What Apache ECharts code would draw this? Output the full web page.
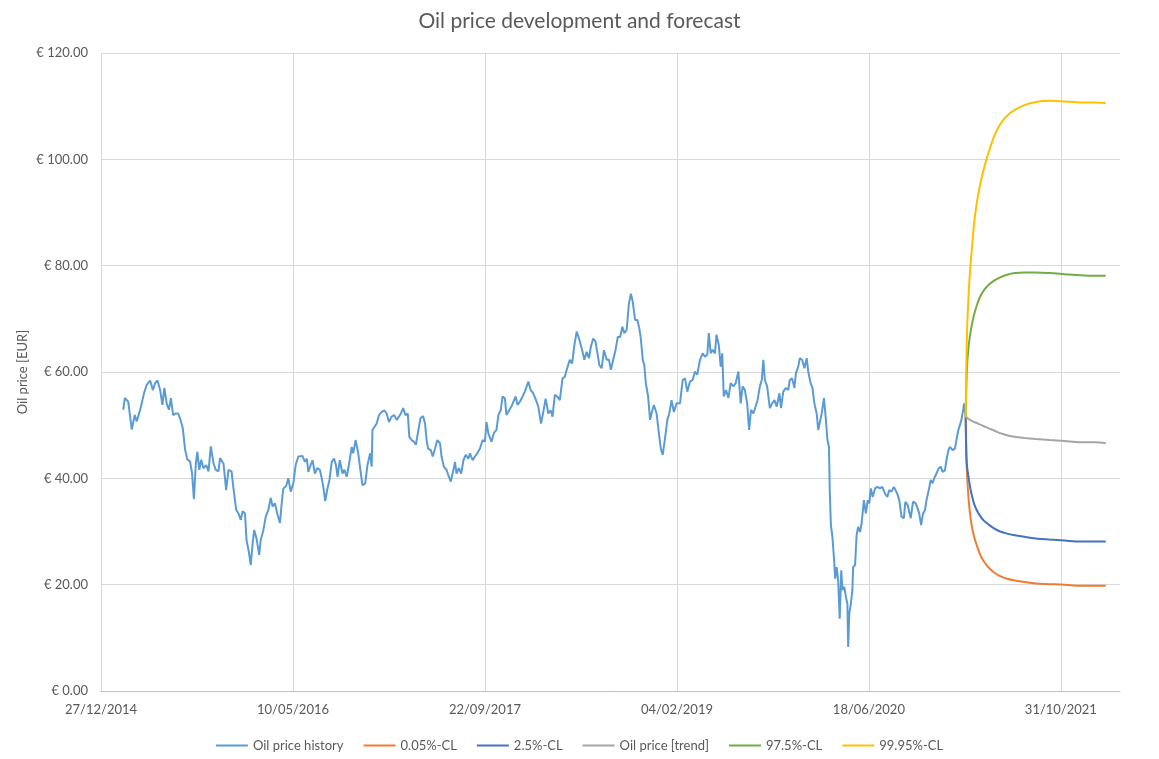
<!DOCTYPE html>
<html>
<head>
<meta charset="utf-8">
<title>Oil price development and forecast</title>
<script src="https://cdn.jsdelivr.net/npm/echarts@6.0.0/dist/echarts.min.js"></script>
<style>
  html, body { margin: 0; padding: 0; background: #fff; }
  #chart { width: 1159px; height: 759px; }
</style>
</head>
<body>
<div id="chart"></div>
<script>
// x values are days counted from 27/12/2014 (left end of the date axis)
var xTickLabels = ['27/12/2014', '10/05/2016', '22/09/2017', '04/02/2019', '18/06/2020', '31/10/2021'];
var seriesNames = ['Oil price history', '0.05%-CL', '2.5%-CL', 'Oil price [trend]', '97.5%-CL', '99.95%-CL'];
var seriesColors = ['#5B9BD5', '#ED7D31', '#4472C4', '#A5A5A5', '#70AD47', '#FFC000'];

// [day, EUR]
var historyPoints = [
  [58,52.9],[62,55.1],[71,54.4],[80,49.2],[88,51.9],[93,50.7],[102,52.9],[106,54.1],[112,56.0],[119,57.6],
  [128,58.4],[135,56.6],[141,57.9],[147,58.4],[154,56.6],[160,53.8],[165,57.0],[171,54.1],[177,52.9],[182,55.1],
  [188,51.9],[195,52.2],[201,52.2],[207,51.0],[213,49.4],[219,45.4],[225,43.5],[232,43.2],[237,41.0],[242,36.1],
  [247,42.8],[251,45.0],[256,41.6],[261,43.5],[267,41.9],[274,42.5],[280,41.3],[286,46.0],[293,42.8],[299,41.6],
  [306,41.3],[310,43.8],[319,42.8],[326,37.8],[332,41.6],[340,41.3],[345,38.1],[352,34.1],[358,33.4],[364,32.2],
  [369,33.8],[375,33.4],[379,28.4],[385,26.2],[390,23.7],[395,27.8],[399,30.3],[405,28.7],[412,25.6],[416,28.4],
  [423,30.3],[429,32.8],[436,34.1],[442,36.3],[447,34.7],[453,35.3],[459,33.4],[466,31.6],[471,35.6],[475,38.1],
  [482,38.5],[488,40.0],[494,37.5],[501,39.1],[507,42.5],[514,44.1],
  [518,44.1],[525,44.2],[531,43.1],[536,43.7],[540,41.2],[546,42.5],[551,43.4],[557,40.9],[563,41.9],[570,41.6],
  [575,40.0],[579,38.4],[584,35.7],[589,37.8],[595,39.7],[601,43.1],[607,43.7],[612,42.5],[616,40.3],[622,43.4],
  [629,40.9],[634,41.6],[640,40.3],[647,43.1],[653,45.9],[657,44.7],[663,47.2],[670,44.7],[675,41.9],[681,38.7],
  [688,39.0],[694,42.5],[701,44.7],[705,42.2],[707,49.1],[712,48.8],[718,50.3],[724,51.9],[731,52.5],[738,52.8],
  [744,52.2],[750,50.6],[757,51.6],[764,51.9],[770,51.0],[776,51.6],[781,52.2],[787,53.2],[793,51.9],[799,52.2],
  [803,47.8],[809,47.2],[815,46.9],[820,46.3],[826,48.8],[832,51.3],[839,51.7],[844,50.3],[848,47.2],[852,45.6],
  [859,45.3],[864,44.1],[870,45.6],[876,47.2],[883,46.6],[887,44.1],[893,42.2],[900,41.6],[906,40.3],[911,39.4],
  [918,41.6],[922,43.1],[926,40.9],[932,41.9],[938,40.9],[944,43.4],[950,44.4],[957,43.7],[961,44.7],[968,43.4],
  [974,44.1],[980,44.7],[987,45.6],[994,47.2],[1000,46.9],[1004,50.6],[1009,48.4],
  [1017,46.9],[1023,48.5],[1030,49.1],[1035,51.9],[1041,52.8],[1046,55.4],[1052,55.0],[1056,51.9],[1063,52.8],[1069,53.5],
  [1074,53.8],[1080,55.4],[1085,53.8],[1091,54.4],[1098,55.4],[1104,56.3],[1113,58.2],[1119,56.6],[1126,56.0],[1133,54.7],
  [1139,53.5],[1146,50.3],[1152,52.5],[1158,55.0],[1165,52.2],[1171,52.8],[1176,51.6],[1182,55.7],[1188,55.4],[1195,54.7],
  [1202,58.8],[1208,59.1],[1214,60.7],[1221,62.3],[1227,61.6],[1233,65.1],[1239,67.6],[1245,66.3],[1252,64.4],[1259,62.3],
  [1265,63.8],[1271,62.6],[1276,64.8],[1282,66.3],[1288,65.7],[1293,66.0],[1298,61.3],[1304,60.7],[1310,64.1],[1317,62.3],
  [1323,62.3],[1328,60.4],[1334,62.3],[1340,64.1],[1346,66.6],[1352,66.6],[1358,68.5],[1363,67.3],[1369,67.9],[1375,72.9],
  [1380,74.7],[1385,73.2],[1391,69.8],[1397,69.8],[1402,68.2],[1406,66.3],[1411,62.3],[1415,61.3],[1419,57.9],[1425,55.4],
  [1430,51.0],[1436,52.8],[1440,53.8],[1447,52.2],[1453,48.5],[1458,45.6],[1463,44.4],[1469,47.5],[1475,51.0],[1480,52.2],
  [1486,54.7],[1492,52.5],[1499,54.1],
  [1508,54.1],[1515,58.5],[1521,58.8],[1527,56.3],[1534,58.2],[1541,58.5],[1547,60.1],[1553,59.5],[1560,62.3],[1567,63.5],
  [1573,62.9],[1579,63.2],[1583,67.3],[1588,63.5],[1593,64.2],[1599,63.5],[1603,67.0],[1609,65.1],[1614,61.0],[1618,63.5],
  [1622,55.4],[1628,56.6],[1634,55.1],[1640,57.9],[1647,57.3],[1653,57.9],[1660,60.1],[1666,54.1],[1671,57.3],[1677,56.6],
  [1683,54.1],[1688,49.1],[1693,52.9],[1699,52.2],[1705,53.5],[1710,54.7],[1716,57.3],[1721,58.5],[1725,62.3],[1729,58.5],
  [1735,57.3],[1742,53.2],[1748,54.1],[1754,54.7],[1760,53.5],[1767,56.0],[1771,53.2],[1777,56.3],[1784,57.0],[1790,56.6],
  [1794,58.5],[1800,58.8],[1806,57.0],[1810,59.8],[1816,61.0],[1820,62.6],[1826,62.3],[1832,60.7],[1838,62.6],[1842,60.1],
  [1848,57.9],[1853,57.0],[1858,54.1],[1864,52.2],[1868,49.1],[1872,50.4],[1877,52.2],[1883,55.1],[1888,51.0],[1892,47.2],
  [1896,45.9],[1898,37.8],[1901,31.2],[1905,29.0],[1910,24.0],[1912,21.1],[1916,23.3],[1920,20.8],[1924,13.6],[1928,22.7],
  [1931,19.0],[1936,19.6],[1940,17.7],[1944,16.4],[1946,8.3],[1949,14.6],[1953,16.4],[1957,19.0],[1959,23.3],[1964,23.7],
  [1968,29.3],[1972,30.9],[1977,29.9],[1981,31.5],[1987,35.9],[1992,33.4],[1997,35.9],[2001,35.3],[2005,38.1],[2010,36.5],
  [2016,38.1],[2022,38.4],[2029,38.1],[2035,38.4],[2042,37.1],[2048,36.5],[2053,37.8],[2059,37.5],[2065,38.4],[2070,38.7],
  [2074,37.1],[2079,35.9],[2085,32.8],[2091,32.5],[2095,35.6],[2101,35.0],[2105,35.3],[2109,32.5],[2115,35.6],[2122,35.3],
  [2127,34.3],[2131,33.4],[2136,31.2],[2141,33.4],[2146,34.0],[2150,35.9],[2156,37.8],[2161,39.7],[2166,39.1],[2170,40.0],
  [2176,40.9],[2181,41.8],[2187,42.2],[2192,41.2],[2198,41.5],[2202,43.4],[2207,45.3],[2211,45.9],[2218,45.3],[2224,45.6],
  [2228,47.2],[2233,49.1],[2237,50.0],[2241,51.0],[2246,53.1],[2248,54.1],[2252,51.6]
];

// forecast, one year ahead
var forecastDays = [2252, 2254, 2256, 2259, 2263, 2268, 2274, 2281, 2290, 2300, 2312, 2326, 2342, 2360, 2380, 2405, 2435, 2470, 2510, 2550, 2590, 2617];
var cl0005 = [51.6, 43.5, 40.3, 36.8, 33.6, 31.0, 29.0, 27.4, 25.6, 24.3, 23.2, 22.3, 21.6, 21.1, 20.8, 20.5, 20.2, 20.1, 20.0, 19.8, 19.8, 19.8];
var cl025 = [51.6, 44.0, 42.0, 40.5, 38.6, 36.8, 35.2, 34.0, 32.9, 32.0, 31.3, 30.6, 30.0, 29.6, 29.3, 29.0, 28.7, 28.5, 28.3, 28.1, 28.1, 28.1];
var trend = [51.6, 51.5, 51.4, 51.2, 51.0, 50.8, 50.6, 50.4, 50.1, 49.8, 49.4, 49.0, 48.5, 48.1, 47.8, 47.6, 47.4, 47.2, 47.0, 46.8, 46.8, 46.6];
var cl975 = [51.6, 58.0, 61.5, 64.3, 66.7, 68.8, 70.8, 72.5, 74.2, 75.4, 76.4, 77.2, 77.8, 78.3, 78.6, 78.7, 78.7, 78.6, 78.4, 78.2, 78.1, 78.1];
var cl9995 = [51.6, 62.0, 68.5, 73.5, 78.5, 83.0, 88.0, 91.8, 95.3, 98.4, 101.3, 104.3, 106.6, 108.2, 109.3, 110.2, 110.8, 111.0, 110.9, 110.7, 110.7, 110.6];

function pair(days, vals) {
  return days.map(function (d, i) { return [d, vals[i]]; });
}

var font = 'Lato, "Open Sans", sans-serif';
var textColor = '#595959';

var myChart = echarts.init(document.getElementById('chart'));
var forecastSets = [cl0005, cl025, trend, cl975, cl9995];
var series = [{
  name: seriesNames[0],
  type: 'line',
  data: historyPoints,
  showSymbol: false,
  symbol: 'none',
  lineStyle: { width: 2, color: seriesColors[0] },
  itemStyle: { color: seriesColors[0] },
  animation: false
}];
forecastSets.forEach(function (vals, i) {
  series.push({
    name: seriesNames[i + 1],
    type: 'line',
    data: pair(forecastDays, vals),
    showSymbol: false,
    symbol: 'none',
    smooth: 0.3,
    lineStyle: { width: 2, color: seriesColors[i + 1] },
    itemStyle: { color: seriesColors[i + 1] },
    animation: false
  });
});

var option = {
  backgroundColor: '#fff',
  title: {
    text: 'Oil price development and forecast',
    left: 'center',
    top: 6,
    textStyle: { fontFamily: font, fontSize: 21, fontWeight: 'normal', color: textColor }
  },
  legend: {
    data: seriesNames,
    top: 734,
    left: 'center',
    icon: 'rect',
    itemWidth: 32,
    itemHeight: 2,
    itemGap: 20,
    textStyle: { fontFamily: font, fontSize: 13, color: textColor }
  },
  grid: { left: 101, right: 39, top: 53, bottom: 68, containLabel: false },
  xAxis: {
    type: 'value',
    min: 0,
    max: 2654,
    interval: 500,
    axisLine: { show: true, lineStyle: { color: '#BFBFBF', width: 1 } },
    axisTick: { show: false },
    splitLine: { show: true, showMaxLine: false, lineStyle: { color: '#D9D9D9', width: 1 } },
    axisLabel: {
      showMaxLabel: false,
      margin: 12,
      fontFamily: font,
      fontSize: 13,
      color: textColor,
      formatter: function (v) {
        var k = Math.round(v / 500);
        return (v % 500 === 0 && xTickLabels[k]) ? xTickLabels[k] : '';
      }
    }
  },
  yAxis: {
    type: 'value',
    min: 0,
    max: 120,
    interval: 20,
    name: 'Oil price [EUR]',
    nameLocation: 'middle',
    nameRotate: 90,
    nameGap: 72,
    nameMoveOverlap: false,
    nameTextStyle: { fontFamily: font, fontSize: 13, color: textColor },
    axisLine: { show: false },
    axisTick: { show: false },
    splitLine: { show: true, lineStyle: { color: '#D9D9D9', width: 1 } },
    axisLabel: {
      margin: 13,
      fontFamily: font,
      fontSize: 13,
      color: textColor,
      formatter: function (v) { return '€ ' + v.toFixed(2); }
    }
  },
  series: series
};

myChart.setOption(option);
window.addEventListener('resize', function () {
  myChart.resize();
});
</script>
</body>
</html>
